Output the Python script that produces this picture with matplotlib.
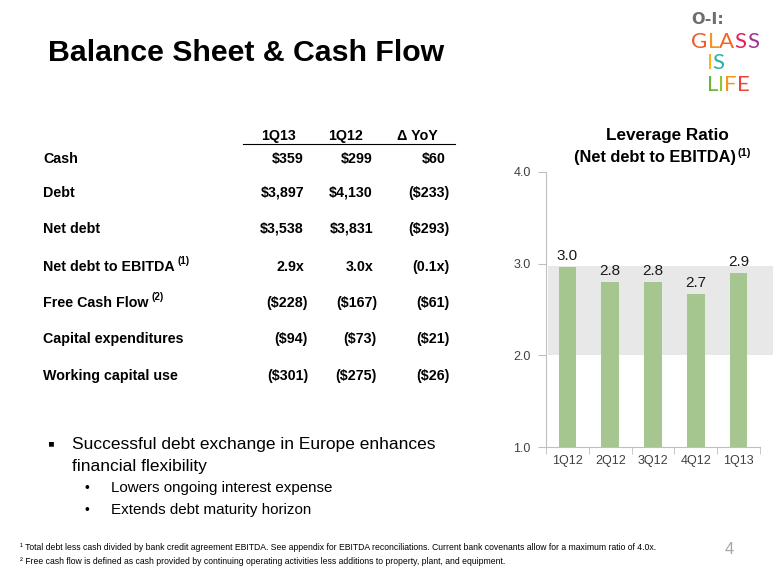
import numpy as np
import matplotlib
matplotlib.use('Agg')
import matplotlib.pyplot as plt
from matplotlib.patches import Rectangle

plt.rcParams['font.family'] = ['Liberation Sans', 'DejaVu Sans']

# Datos de la tabla
row_labels = ["Cash", "Debt", "Net debt", "Net debt to EBITDA", "Free Cash Flow",
              "Capital expenditures", "Working capital use"]
row_sups = ["", "", "", "(1)", "(2)", "", ""]
col_headers = ["1Q13", "1Q12", "\u0394 YoY"]
val_1q13 = ["$359", "$3,897", "$3,538", "2.9x", "($228)", "($94)", "($301)"]
val_1q12 = ["$299", "$4,130", "$3,831", "3.0x", "($167)", "($73)", "($275)"]
val_yoy = ["$60", "($233)", "($293)", "(0.1x)", "($61)", "($21)", "($26)"]

# Datos del grafico
quarters = ["1Q12", "2Q12", "3Q12", "4Q12", "1Q13"]
leverage = [2.96, 2.8, 2.8, 2.67, 2.9]

bullet_main = ["Successful debt exchange in Europe enhances", "financial flexibility"]
bullet_sub = ["Lowers ongoing interest expense", "Extends debt maturity horizon"]
footnotes = [
    "\u00b9 Total debt less cash divided by bank credit agreement EBITDA. See appendix for EBITDA reconciliations. Current bank covenants allow for a maximum ratio of 4.0x.",
    "\u00b2 Free cash flow is defined as cash provided by continuing operating activities less additions to property, plant, and equipment.",
]

W, H = 780, 585
fig = plt.figure(figsize=(7.8, 5.85), dpi=100)
renderer = fig.canvas.get_renderer()


def px(x, y):
    return x / W, 1 - y / H


def ftext(x, y, s, **kw):
    return fig.text(*px(x, y), s, **kw)


# Titulo
ftext(48, 53, "Balance Sheet & Cash Flow", fontsize=21.8, fontweight='bold',
      va='center', ha='left', color='#000000')

# Logo
ftext(691, 19, "O-I:", fontsize=11.5, fontweight='bold', color='#6d6e71',
      ha='left', va='center', family='DejaVu Sans')
logo_rows = [
    ("GLASS", ['#f15a29', '#f7941d', '#f26522', '#e2215a', '#a3338f'], 691, 42, 0.3),
    ("IS", ['#f7b51b', '#2cb1a4'], 707, 63, -1.0),
    ("LIFE", ['#6cb33f', '#8cc63f', '#f7941d', '#ef4136'], 707, 85, 0.0),
]
for word, colors, x0, yy, gap in logo_rows:
    for ch, c in zip(word, colors):
        t = ftext(x0, yy, ch, fontsize=16, color=c, ha='left', va='center', family='Lato')
        bb = t.get_window_extent(renderer)
        x0 += bb.width + gap

# Tabla
col_center = [278, 346, 417]
col_right = [304, 373, 446]
header_y = 136
for cx, h in zip(col_center, col_headers):
    ftext(cx, header_y, h, fontsize=10.3, fontweight='bold', ha='center', va='center')
fig.add_artist(plt.Line2D([243 / W, 455 / W], [1 - 144 / H, 1 - 144 / H],
                          color='#000000', lw=0.8))

row_y = [159, 193, 229, 267, 303, 339, 376]
for i, lab in enumerate(row_labels):
    t = ftext(43, row_y[i], lab, fontsize=10.3, fontweight='bold', ha='left', va='center')
    if row_sups[i]:
        bb = t.get_window_extent(renderer)
        fig.text(bb.x1 / W + 3 / W, 1 - (row_y[i] - 6) / H, row_sups[i], fontsize=7,
                 fontweight='bold', ha='left', va='center')
    for j, vals in enumerate([val_1q13, val_1q12, val_yoy]):
        v = vals[i]
        xr = col_right[j] + (4 if v.startswith('(') else 0)
        ftext(xr, row_y[i], v, fontsize=10.3, fontweight='bold', ha='right', va='center')

# Vinetas
ftext(51, 445, "\u25aa", fontsize=14, ha='center', va='center')
for k, s in enumerate(bullet_main):
    ftext(72, 445 + 22 * k, s, fontsize=12.5, ha='left', va='center')
for k, s in enumerate(bullet_sub):
    ftext(87, 488 + 22 * k, "\u2022", fontsize=10, ha='center', va='center')
    ftext(111, 488 + 22 * k, s, fontsize=10.9, ha='left', va='center')

# Notas al pie
for k, s in enumerate(footnotes):
    ftext(20, 548 + 14 * k, s, fontsize=6.25, ha='left', va='center', color='#000000')
ftext(729, 549, "4", fontsize=12, color='#a6a6a6', ha='center', va='center')

# Grafico de apalancamiento
ax = fig.add_axes([546 / W, 1 - 447 / H, (760 - 546) / W, (447 - 172) / H])
x = np.arange(len(quarters))
ax.add_patch(Rectangle((-0.45, 2.0), 5.25, 0.98, facecolor='#e8e8e8',
                       edgecolor='none', clip_on=False, zorder=0))
bars = ax.bar(x, leverage, width=0.41, color='#a6c68f', zorder=2)
for xi, v in zip(x, leverage):
    ax.annotate(f"{v:.1f}", (xi, v), xytext=(0, 3), textcoords='offset points',
                ha='center', va='bottom', fontsize=11, color='#1a1a1a')
ax.set_xlim(-0.5, 4.5)
ax.set_ylim(1.0, 4.0)
ax.set_yticks([1.0, 2.0, 3.0, 4.0])
ax.set_yticklabels(["1.0", "2.0", "3.0", "4.0"])
ax.set_xticks(x)
ax.set_xticklabels(quarters)
ax.set_xticks(np.arange(-0.5, 5.0, 1.0), minor=True)
ax.tick_params(axis='x', which='major', length=0, labelsize=9, colors='#404040', pad=6)
ax.tick_params(axis='x', which='minor', length=5, color='#bfbfbf', direction='out')
ax.tick_params(axis='y', length=6, color='#bfbfbf', labelsize=9, labelcolor='#404040', pad=5)
for side in ['top', 'right']:
    ax.spines[side].set_visible(False)
for side in ['left', 'bottom']:
    ax.spines[side].set_color('#bfbfbf')
ax.set_facecolor('none')

ftext(667, 135, "Leverage Ratio", fontsize=12.3, fontweight='bold', ha='center', va='center')
t2 = ftext(655, 158, "(Net debt to EBITDA)", fontsize=11.8, fontweight='bold',
           ha='center', va='center')
bb = t2.get_window_extent(renderer)
fig.text(bb.x1 / W + 1 / W, 1 - 153 / H, "(1)", fontsize=8, fontweight='bold',
         ha='left', va='center')

fig.savefig("out.png", dpi=100)
